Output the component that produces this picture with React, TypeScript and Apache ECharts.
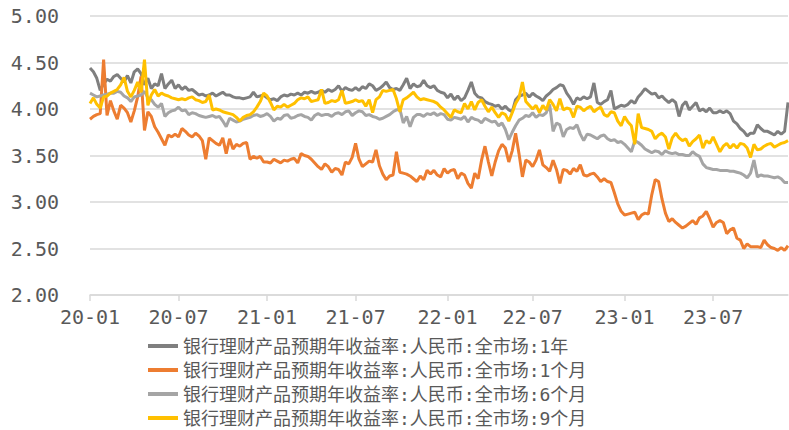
import React, { useEffect, useRef } from "react";
import * as echarts from "echarts";

// Weekly observations, first Friday of 2020 onward
const START_DATE = Date.UTC(2020, 0, 3);
const WEEK_COUNT = 206;
const weekDates: string[] = [];
for (let i = 0; i < WEEK_COUNT; i++) {
  weekDates.push(new Date(START_DATE + i * 7 * 86400000).toISOString().slice(0, 10));
}

const seriesNames = [
  "银行理财产品预期年收益率:人民币:全市场:1年",
  "银行理财产品预期年收益率:人民币:全市场:1个月",
  "银行理财产品预期年收益率:人民币:全市场:6个月",
  "银行理财产品预期年收益率:人民币:全市场:9个月",
];

const yield1Y = [
  4.44, 4.40, 4.33, 4.20, 4.27, 4.32, 4.30, 4.35, 4.37, 4.33,
  4.29, 4.36, 4.28, 4.40, 4.43, 4.38, 4.26, 4.33, 4.22, 4.27,
  4.25, 4.38, 4.22, 4.27, 4.31, 4.22, 4.26, 4.21, 4.24, 4.20,
  4.21, 4.18, 4.15, 4.16, 4.14, 4.15, 4.17, 4.14, 4.16, 4.18,
  4.15, 4.15, 4.13, 4.12, 4.12, 4.11, 4.12, 4.13, 4.18, 4.13,
  4.14, 4.15, 4.12, 4.10, 4.11, 4.09, 4.13, 4.15, 4.14, 4.16,
  4.15, 4.17, 4.15, 4.18, 4.17, 4.19, 4.17, 4.18, 4.20, 4.18,
  4.21, 4.19, 4.21, 4.25, 4.19, 4.23, 4.21, 4.20, 4.23, 4.20,
  4.24, 4.22, 4.27, 4.25, 4.20, 4.22, 4.25, 4.29, 4.23, 4.21,
  4.22, 4.20, 4.26, 4.33, 4.22, 4.27, 4.24, 4.25, 4.31, 4.25,
  4.23, 4.25, 4.20, 4.18, 4.17, 4.12, 4.16, 4.10, 4.14, 4.09,
  4.12, 4.20, 4.29, 4.17, 4.13, 4.12, 4.08, 4.06, 4.05, 4.03,
  4.04, 4.00, 4.03, 3.99, 3.97, 4.10, 4.14, 4.15, 4.17, 4.13,
  4.17, 4.14, 4.12, 4.09, 4.14, 4.17, 4.21, 4.23, 4.26, 4.25,
  4.17, 4.12, 4.05, 4.12, 4.10, 4.13, 4.11, 4.13, 4.28, 4.07,
  4.05, 4.08, 4.10, 4.20, 4.00, 4.02, 4.04, 4.03, 4.05, 4.09,
  4.06, 4.13, 4.17, 4.22, 4.19, 4.16, 4.17, 4.12, 4.14, 4.10,
  4.07, 4.10, 4.07, 3.92, 4.04, 4.08, 3.99, 4.03, 4.07, 3.98,
  4.00, 3.97, 4.01, 3.96, 3.96, 3.98, 3.96, 3.98, 3.95, 3.87,
  3.84, 3.79, 3.76, 3.71, 3.74, 3.74, 3.83, 3.79, 3.76, 3.76,
  3.74, 3.72, 3.76, 3.73, 3.76, 4.07,
];

const yield1M = [
  3.89, 3.92, 3.94, 3.95, 4.53, 3.93, 4.09, 3.98, 3.89, 4.04,
  4.01, 3.96, 3.86, 3.98, 4.13, 4.35, 3.77, 3.97, 3.92, 3.81,
  3.75, 3.68, 3.61, 3.72, 3.70, 3.73, 3.70, 3.79, 3.76, 3.72,
  3.70, 3.74, 3.71, 3.66, 3.46, 3.69, 3.66, 3.63, 3.61, 3.69,
  3.52, 3.68, 3.57, 3.62, 3.60, 3.63, 3.64, 3.46, 3.49, 3.47,
  3.49, 3.43, 3.43, 3.42, 3.46, 3.44, 3.42, 3.45, 3.44, 3.46,
  3.47, 3.42, 3.52, 3.50, 3.49, 3.46, 3.42, 3.38, 3.35, 3.41,
  3.38, 3.32, 3.36, 3.35, 3.29, 3.43, 3.41, 3.48, 3.63, 3.46,
  3.38, 3.41, 3.44, 3.43, 3.56, 3.39, 3.30, 3.24, 3.28, 3.29,
  3.54, 3.32, 3.31, 3.30, 3.28, 3.25, 3.22, 3.28, 3.24, 3.34,
  3.30, 3.34, 3.29, 3.27, 3.36, 3.31, 3.34, 3.35, 3.25, 3.31,
  3.29, 3.20, 3.15, 3.31, 3.25, 3.45, 3.60, 3.43, 3.28, 3.43,
  3.55, 3.62, 3.58, 3.43, 3.55, 3.74, 3.52, 3.27, 3.45, 3.43,
  3.38, 3.45, 3.56, 3.40, 3.37, 3.33, 3.45, 3.35, 3.20, 3.35,
  3.34, 3.30, 3.36, 3.33, 3.40, 3.29, 3.28, 3.30, 3.31, 3.27,
  3.22, 3.25, 3.22, 3.21, 3.10, 2.98, 2.90, 2.86, 2.87, 2.88,
  2.89, 2.81, 2.86, 2.88, 2.87, 3.08, 3.24, 3.22, 3.03, 2.88,
  2.79, 2.82, 2.78, 2.75, 2.72, 2.74, 2.77, 2.80, 2.76, 2.83,
  2.85, 2.90, 2.82, 2.73, 2.78, 2.80, 2.78, 2.66, 2.70, 2.72,
  2.61, 2.59, 2.50, 2.55, 2.52, 2.52, 2.52, 2.51, 2.59, 2.54,
  2.51, 2.50, 2.48, 2.51, 2.48, 2.53,
];

const yield6M = [
  4.17, 4.15, 4.13, 4.14, 4.15, 4.16, 4.17, 4.17, 4.19, 4.18,
  4.14, 4.12, 4.08, 4.13, 4.14, 4.15, 4.19, 4.12, 4.10, 4.05,
  4.02, 4.06, 3.92, 3.96, 3.98, 3.99, 4.02, 3.98, 3.99, 3.94,
  3.96, 3.95, 3.93, 3.92, 3.91, 3.92, 3.93, 3.91, 3.92, 3.87,
  3.81, 3.90, 3.88, 3.86, 3.87, 3.89, 3.90, 3.91, 3.93, 3.94,
  3.92, 3.93, 3.95, 3.92, 3.87, 3.90, 3.89, 3.93, 3.94, 3.90,
  3.91, 3.93, 3.94, 3.92, 3.91, 3.88, 3.93, 3.95, 3.93, 3.94,
  3.94, 3.92, 3.95, 3.96, 3.94, 3.97, 3.98, 3.93, 3.96, 3.98,
  3.97, 3.93, 3.94, 3.92, 3.91, 3.89, 3.90, 3.92, 3.94, 3.97,
  3.99, 4.00, 3.85, 3.92, 3.81, 3.91, 3.94, 3.94, 3.92, 3.95,
  3.94, 3.96, 3.93, 3.95, 3.94, 3.89, 3.88, 3.91, 3.90, 3.89,
  3.92, 3.86, 3.91, 3.89, 3.88, 3.85, 3.90, 3.88, 3.86, 3.87,
  3.82, 3.85, 3.78, 3.67, 3.75, 3.82, 3.88, 3.90, 3.93, 3.92,
  3.96, 3.91, 3.94, 3.93, 3.96, 4.05, 3.76, 3.85, 3.83, 3.70,
  3.78, 3.80, 3.79, 3.83, 3.73, 3.66, 3.73, 3.72, 3.70, 3.68,
  3.71, 3.72, 3.68, 3.66, 3.67, 3.64, 3.65, 3.62, 3.58, 3.54,
  3.66, 3.64, 3.61, 3.57, 3.55, 3.53, 3.55, 3.54, 3.51, 3.55,
  3.53, 3.52, 3.53, 3.51, 3.51, 3.50, 3.50, 3.54, 3.51, 3.49,
  3.41, 3.37, 3.36, 3.35, 3.35, 3.34, 3.34, 3.34, 3.33, 3.33,
  3.32, 3.31, 3.29, 3.26, 3.31, 3.45, 3.27, 3.29, 3.28, 3.28,
  3.27, 3.26, 3.27, 3.25, 3.21, 3.21,
];

const yield9M = [
  4.06, 4.12, 4.05, 4.01, 4.13, 4.14, 4.17, 4.19, 4.21, 4.26,
  4.34, 4.19, 4.13, 4.20, 4.29, 4.18, 4.53, 4.04, 4.15, 4.21,
  4.14, 4.17, 4.15, 4.14, 4.12, 4.11, 4.10, 4.11, 4.10, 4.12,
  4.13, 4.10, 4.09, 4.07, 4.08, 4.15, 3.99, 4.00, 3.99, 3.97,
  3.96, 3.95, 3.94, 3.91, 3.87, 3.91, 3.93, 3.94, 3.97, 4.02,
  4.08, 4.17, 4.14, 4.07, 3.99, 4.03, 4.02, 4.05, 4.02, 4.04,
  4.06, 4.10, 4.12, 4.11, 4.13, 4.08, 4.09, 4.10, 4.21, 4.06,
  4.07, 4.09, 4.08, 4.10, 4.20, 4.06, 4.07, 4.08, 4.10, 4.08,
  4.09, 4.03, 4.10, 3.96, 4.10, 4.13, 4.20, 4.19, 4.20, 4.21,
  4.11, 3.97, 4.10, 4.12, 4.15, 4.18, 4.13, 4.10, 4.11, 4.10,
  4.09, 4.08, 4.06, 4.02, 3.99, 3.95, 3.91, 3.99, 3.97, 3.96,
  4.06, 4.00, 4.08, 3.99, 4.07, 4.10, 4.03, 3.97, 4.02, 3.96,
  3.91, 3.96, 3.94, 3.87, 3.96, 4.06, 4.12, 4.29, 4.08, 4.04,
  4.00, 4.04, 3.96, 4.04, 3.99, 4.10, 4.05, 3.98, 4.11, 3.99,
  4.01, 4.00, 3.91, 4.03, 4.02, 3.98, 4.01, 4.03, 3.97, 4.00,
  4.02, 3.94, 3.92, 3.97, 3.96, 3.87, 3.82, 3.92, 3.86, 3.82,
  3.62, 3.95, 3.80, 3.79, 3.78, 3.76, 3.68, 3.72, 3.74, 3.70,
  3.57, 3.69, 3.74, 3.69, 3.66, 3.68, 3.60, 3.65, 3.68, 3.72,
  3.58, 3.66, 3.63, 3.70, 3.62, 3.54, 3.60, 3.63, 3.58, 3.62,
  3.58, 3.63, 3.62, 3.58, 3.48, 3.62, 3.56, 3.57, 3.60, 3.62,
  3.63, 3.59, 3.61, 3.63, 3.64, 3.66,
];

const seriesColors = ["#7f7f7f", "#ed7d31", "#a5a5a5", "#ffc000"];
const seriesData = [yield1Y, yield1M, yield6M, yield9M];

const NUM_FONT = "'DejaVu Sans Mono', 'Noto Sans CJK SC', monospace";
const TEXT_COLOR = "#595959";
const LINE_GRAY = "#d9d9d9";

// Show a label/tick on the first week of January and July
const isHalfYearStart = (_idx: number, value: string) => {
  const month = value.slice(5, 7);
  const day = Number(value.slice(8, 10));
  return (month === "01" || month === "07") && day <= 7;
};

export default function App() {
  const ref = useRef<HTMLDivElement>(null);

  useEffect(() => {
    if (!ref.current) return;
    const chart = echarts.init(ref.current, undefined, { renderer: "svg" });
    chart.setOption({
      animation: false,
      backgroundColor: "#ffffff",
      grid: { left: 90, right: 1, top: 16, bottom: 135, containLabel: false },
      legend: {
        orient: "vertical",
        left: 148,
        top: 337,
        height: 93,
        padding: 0,
        itemWidth: 30,
        itemHeight: 4,
        itemGap: 6,
        icon: "rect",
        textStyle: {
          color: TEXT_COLOR,
          fontSize: 18,
          lineHeight: 18,
          fontFamily: NUM_FONT,
        },
        data: seriesNames,
      },
      xAxis: {
        type: "category",
        boundaryGap: false,
        data: weekDates,
        axisLine: { show: true, lineStyle: { color: LINE_GRAY, width: 1.5 } },
        axisTick: {
          show: true,
          interval: isHalfYearStart,
          length: 6,
          lineStyle: { color: LINE_GRAY, width: 1.5 },
        },
        axisLabel: {
          interval: isHalfYearStart,
          formatter: (v: string) => v.slice(2, 7),
          color: TEXT_COLOR,
          fontSize: 20,
          fontFamily: NUM_FONT,
          margin: 12,
        },
        splitLine: { show: false },
      },
      yAxis: {
        type: "value",
        min: 2,
        max: 5,
        interval: 0.5,
        axisLine: { show: false },
        axisTick: { show: false },
        axisLabel: {
          formatter: (v: number) => v.toFixed(2),
          color: TEXT_COLOR,
          fontSize: 20,
          fontFamily: NUM_FONT,
          margin: 31,
        },
        splitLine: { show: true, lineStyle: { color: LINE_GRAY, width: 1.5 } },
      },
      series: seriesNames.map((name, i) => ({
        name,
        type: "line",
        data: seriesData[i],
        showSymbol: false,
        symbol: "none",
        lineStyle: { color: seriesColors[i], width: 3 },
        itemStyle: { color: seriesColors[i] },
        emphasis: { disabled: true },
      })),
    });
    return () => chart.dispose();
  }, []);

  return (
    <div
      ref={ref}
      style={{ position: "fixed", left: 0, top: 0, width: 789, height: 430, background: "#fff" }}
    />
  );
}
